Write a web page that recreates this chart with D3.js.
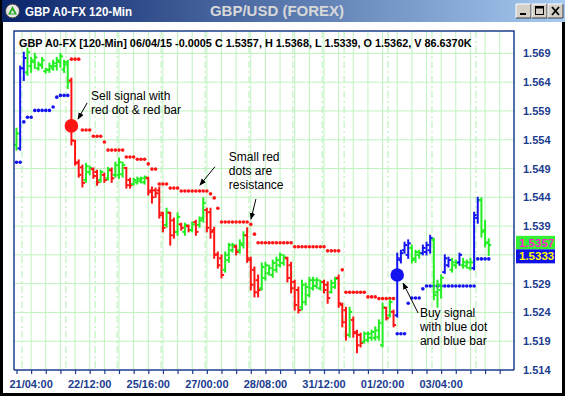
<!DOCTYPE html>
<html><head><meta charset="utf-8">
<script src="https://cdn.jsdelivr.net/npm/d3@7"></script>
<style>html,body{margin:0;padding:0;background:#000;overflow:hidden}svg{display:block}</style>
</head><body>
<svg id="c" width="565" height="396"></svg>
<script>
// ---------------- DATA ----------------
const barOpen = [
1.5531,1.5525,1.5664,1.5657,1.5668,1.5675,1.5664,1.5669,1.5659,1.5661,
1.5664,1.5668,1.5675,1.5662,1.5671,1.5643,1.5538,1.5501,1.5492,1.5470,
1.5484,1.5489,1.5484,1.5470,1.5479,1.5473,1.5487,1.5479,1.5479,1.5480,
1.5491,1.5470,1.5463,1.5466,1.5468,1.5466,1.5473,1.5452,1.5452,1.5452,
1.5413,1.5392,1.5413,1.5400,1.5380,1.5393,1.5380,1.5390,1.5383,1.5397,
1.5392,1.5404,1.5418,1.5414,1.5383,1.5341,1.5334,1.5314,1.5331,1.5348,
1.5354,1.5348,1.5357,1.5374,1.5331,1.5314,1.5296,1.5282,1.5300,1.5308,
1.5305,1.5314,1.5322,1.5326,1.5334,1.5322,1.5293,1.5279,1.5249,1.5258,
1.5270,1.5282,1.5286,1.5282,1.5293,1.5288,1.5275,1.5284,1.5300,1.5253,
1.5244,1.5201,1.5227,1.5206,1.5201,1.5189,1.5192,1.5196,1.5196,1.5197,
1.5183,1.5248,1.5235,1.5241,1.5235,1.5331,1.5348,1.5340,1.5352,1.5334,
1.5340,1.5343,1.5345,1.5348,1.5366,1.5275,1.5279,1.5310,1.5322,1.5314,
1.5322,1.5327,1.5322,1.5321,1.5317,1.5317,1.5404,1.5435,1.5383,1.5362];
const barHigh = [
1.5560,1.5668,1.5692,1.5699,1.5683,1.5690,1.5675,1.5683,1.5664,1.5673,
1.5678,1.5683,1.5690,1.5678,1.5678,1.5647,1.5539,1.5505,1.5496,1.5499,
1.5494,1.5491,1.5487,1.5487,1.5482,1.5492,1.5491,1.5501,1.5508,1.5501,
1.5492,1.5473,1.5473,1.5475,1.5475,1.5477,1.5475,1.5458,1.5456,1.5458,
1.5414,1.5421,1.5414,1.5404,1.5413,1.5395,1.5395,1.5392,1.5397,1.5400,
1.5406,1.5439,1.5421,1.5421,1.5388,1.5345,1.5340,1.5345,1.5360,1.5360,
1.5357,1.5366,1.5380,1.5387,1.5336,1.5319,1.5305,1.5326,1.5327,1.5322,
1.5331,1.5336,1.5343,1.5340,1.5336,1.5327,1.5296,1.5284,1.5296,1.5291,
1.5301,1.5301,1.5300,1.5296,1.5296,1.5293,1.5296,1.5301,1.5305,1.5256,
1.5249,1.5249,1.5232,1.5209,1.5204,1.5206,1.5206,1.5209,1.5215,1.5227,
1.5256,1.5249,1.5262,1.5244,1.5343,1.5348,1.5362,1.5366,1.5357,1.5348,
1.5348,1.5357,1.5362,1.5374,1.5369,1.5296,1.5305,1.5340,1.5336,1.5334,
1.5331,1.5343,1.5334,1.5331,1.5334,1.5414,1.5440,1.5439,1.5400,1.5368];
const barLow = [
1.5522,1.5522,1.5643,1.5652,1.5657,1.5664,1.5661,1.5664,1.5656,1.5657,
1.5661,1.5661,1.5666,1.5657,1.5629,1.5531,1.5496,1.5475,1.5458,1.5466,
1.5479,1.5473,1.5461,1.5466,1.5466,1.5470,1.5466,1.5475,1.5473,1.5475,
1.5456,1.5456,1.5461,1.5463,1.5465,1.5463,1.5444,1.5430,1.5440,1.5404,
1.5380,1.5388,1.5357,1.5369,1.5374,1.5383,1.5374,1.5380,1.5380,1.5374,
1.5388,1.5397,1.5380,1.5369,1.5334,1.5317,1.5300,1.5310,1.5327,1.5345,
1.5340,1.5343,1.5352,1.5327,1.5279,1.5267,1.5267,1.5279,1.5296,1.5305,
1.5301,1.5310,1.5319,1.5322,1.5293,1.5274,1.5244,1.5239,1.5244,1.5253,
1.5267,1.5279,1.5282,1.5279,1.5274,1.5256,1.5274,1.5282,1.5249,1.5215,
1.5192,1.5197,1.5197,1.5170,1.5180,1.5187,1.5189,1.5192,1.5192,1.5192,
1.5180,1.5227,1.5232,1.5215,1.5232,1.5326,1.5343,1.5334,1.5326,1.5327,
1.5334,1.5340,1.5340,1.5343,1.5262,1.5249,1.5265,1.5308,1.5319,1.5310,
1.5317,1.5322,1.5317,1.5317,1.5314,1.5314,1.5395,1.5371,1.5354,1.5339];
const barClose = [
1.5551,1.5664,1.5682,1.5692,1.5678,1.5683,1.5671,1.5678,1.5662,1.5668,
1.5673,1.5678,1.5685,1.5675,1.5640,1.5539,1.5499,1.5479,1.5465,1.5494,
1.5491,1.5477,1.5466,1.5484,1.5470,1.5489,1.5473,1.5496,1.5501,1.5496,
1.5461,1.5461,1.5470,1.5472,1.5473,1.5475,1.5449,1.5440,1.5447,1.5409,
1.5387,1.5414,1.5374,1.5380,1.5406,1.5387,1.5392,1.5383,1.5393,1.5380,
1.5400,1.5430,1.5387,1.5380,1.5340,1.5322,1.5305,1.5340,1.5357,1.5357,
1.5345,1.5360,1.5374,1.5334,1.5288,1.5275,1.5279,1.5319,1.5322,1.5317,
1.5326,1.5331,1.5340,1.5336,1.5300,1.5282,1.5253,1.5244,1.5288,1.5284,
1.5296,1.5296,1.5296,1.5293,1.5279,1.5265,1.5291,1.5298,1.5256,1.5223,
1.5201,1.5241,1.5204,1.5183,1.5187,1.5203,1.5203,1.5206,1.5209,1.5222,
1.5249,1.5230,1.5258,1.5218,1.5334,1.5343,1.5357,1.5360,1.5331,1.5345,
1.5343,1.5352,1.5357,1.5369,1.5270,1.5288,1.5300,1.5334,1.5331,1.5327,
1.5326,1.5340,1.5327,1.5327,1.5327,1.5409,1.5435,1.5380,1.5360,1.5357];
// bar colour class per bar: G = green, R = red, B = blue
const barColorCodes = (
"GBBGGGGGGG"+"GGGGGRRRRG"+"GRRGRGRGGG"+"RRGGGGRRRR"+"RGRRGRGRGR"+
"GGRRRRRGGG"+"RGGRRRRGGG"+"GGGGRRRRGG"+"GGGGRRGGRR"+"RGRRRGGGGG"+
"GRGRBBBBGG"+"GBBBGGGBBG"+"GBGGGBBGGG").split("");
// trailing stop dots (blue = support, red = resistance)
const stopValue = [
1.5501,1.5501,1.5571,1.5579,1.5579,1.5591,1.5591,1.5591,1.5591,1.5591,
1.5597,1.5614,1.5617,1.5617,1.5617,1.5680,1.5680,1.5680,1.5557,1.5557,
1.5557,1.5546,1.5546,1.5546,1.5536,1.5522,1.5522,1.5522,1.5522,1.5522,
1.5510,1.5510,1.5510,1.5506,1.5506,1.5506,1.5498,1.5489,1.5489,1.5463,
1.5463,1.5463,1.5456,1.5456,1.5456,1.5451,1.5451,1.5451,1.5451,1.5451,
1.5451,1.5451,1.5451,1.5446,1.5439,1.5421,1.5397,1.5397,1.5397,1.5397,
1.5397,1.5397,1.5397,1.5397,1.5393,1.5376,1.5361,1.5361,1.5361,1.5361,
1.5361,1.5361,1.5361,1.5361,1.5361,1.5361,1.5354,1.5354,1.5354,1.5354,
1.5354,1.5354,1.5354,1.5354,1.5354,1.5347,1.5347,1.5347,1.5347,1.5314,
1.5275,1.5275,1.5275,1.5275,1.5275,1.5275,1.5267,1.5267,1.5267,1.5264,
1.5264,1.5264,1.5264,1.5264,1.5203,1.5203,1.5203,1.5256,1.5265,1.5265,
1.5265,1.5281,1.5286,1.5286,1.5286,1.5286,1.5286,1.5286,1.5286,1.5286,
1.5286,1.5286,1.5286,1.5286,1.5286,1.5286,1.5333,1.5333,1.5333,1.5333];
const trendFlips = [{bar:0, side:"B"}, {bar:15, side:"R"}, {bar:104, side:"B"}];
const signals = [{bar:15, price:1.5564, side:"R"}, {bar:104, price:1.5305, side:"B"}];
const priceTicks = [1.514,1.519,1.524,1.529,1.534,1.539,1.544,1.549,1.554,1.559,1.564,1.569];
const timeLabels = [[4,"21/04:00"],[20,"22/12:00"],[36,"25/16:00"],[52,"27/00:00"],
                    [68,"28/08:00"],[84,"31/12:00"],[100,"01/20:00"],[116,"03/04:00"]];
const dayBreaks = [1.5,13.5,21.5,27.5,39.5,51.5,63.5,75.5,83.5,89.5,101.5,113.5,125.5];
const lastTags = [{v:1.5357, kind:"close"}, {v:1.5333, kind:"stop"}];
const volumeText = "86.6370K";
const annotations = [
  {lines:["Sell signal with","red dot & red bar"], bar:20.35, price:1.5609,
   arrows:[[19.3,1.5604,16.8,1.5576]]},
  {lines:["Small red","dots are","resistance"], bar:58.0, price:1.5503,
   arrows:[[54.2,1.5493,50.1,1.5461],[65.4,1.5437,64.05,1.5402]]},
  {lines:["Buy signal","with blue dot","and blue bar"], bar:110.2, price:1.5232,
   arrows:[[109.7,1.5239,105.6,1.5291]]}
];

// ---------------- LAYOUT ----------------
const W = 565, H = 396;
const plot = {l:14, r:514, t:31, b:370};
const FONT = "'Liberation Sans', Arial, sans-serif";
const colorMap = {G:"#22ee22", R:"#ff1414", B:"#1414f0"};
const axisBlue = "#1b3c8e";
const gridCol = "#bff3bf";

const x = d3.scaleLinear().domain([-0.68, 135.9]).range([plot.l, plot.r]);
const y = d3.scaleLinear().domain([1.514, 1.57289]).range([plot.b, plot.t]);

const svg = d3.select("#c");
const defs = svg.append("defs");
const grad = defs.append("linearGradient").attr("id","tg").attr("x1","0").attr("x2","1").attr("y1","0").attr("y2","0");
grad.append("stop").attr("offset","0%").attr("stop-color","#0a246a");
grad.append("stop").attr("offset","100%").attr("stop-color","#a6caf0");
defs.append("marker").attr("id","ah").attr("viewBox","0 0 10 10").attr("refX",9).attr("refY",5)
  .attr("markerWidth",7).attr("markerHeight",7).attr("markerUnits","userSpaceOnUse").attr("orient","auto")
  .append("path").attr("d","M0,1 L10,5 L0,9 z").attr("fill","#000");

// window frame
svg.append("rect").attr("width",W).attr("height",H).attr("fill","#000");
svg.append("rect").attr("x",2).attr("y",0).attr("width",W-2).attr("height",22).attr("fill","url(#tg)");
svg.append("rect").attr("x",3).attr("y",22).attr("width",W-6).attr("height",H-25).attr("fill","#fff");

// title icon
svg.append("circle").attr("cx",12.5).attr("cy",11).attr("r",7).attr("fill","#e8e8e8").attr("stroke","#404040").attr("stroke-width",1);
svg.append("path").attr("d","M12.5,6 L17,14.5 L8,14.5 Z").attr("fill","#22aa22");
svg.append("path").attr("d","M12.5,10 L14.5,13.5 L10.5,13.5 Z").attr("fill","#e8e8e8");
svg.append("text").attr("x",25).attr("y",16).attr("fill","#fff").attr("font-family",FONT)
  .attr("font-weight","bold").attr("font-size",12.5).attr("textLength",107).attr("lengthAdjust","spacingAndGlyphs")
  .text("GBP A0-FX 120-Min");
svg.append("text").attr("x",277).attr("y",16).attr("text-anchor","middle").attr("fill","#d8d8d8")
  .attr("font-family",FONT).attr("font-weight","bold").attr("font-size",15).text("GBP/USD (FOREX)");
// window buttons
const btns = [{x:516,g:"min"},{x:532,g:"max"},{x:548,g:"close"}];
btns.forEach(b=>{
  const bg = svg.append("g");
  bg.append("rect").attr("x",b.x).attr("y",4).attr("width",15).attr("height",14).attr("fill","#d4d0c8");
  bg.append("path").attr("d",`M${b.x},${18} V4 H${b.x+15}`).attr("fill","none").attr("stroke","#fff").attr("stroke-width",1);
  bg.append("path").attr("d",`M${b.x},${18} H${b.x+15} V4`).attr("fill","none").attr("stroke","#404040").attr("stroke-width",1);
  if(b.g==="min") bg.append("rect").attr("x",b.x+4).attr("y",13).attr("width",6).attr("height",2).attr("fill","#000");
  if(b.g==="max") bg.append("rect").attr("x",b.x+3.5).attr("y",6.5).attr("width",8).attr("height",8).attr("fill","none").attr("stroke","#000").attr("stroke-width",1);
  if(b.g==="max") bg.append("line").attr("x1",b.x+3.5).attr("x2",b.x+11.5).attr("y1",7.5).attr("y2",7.5).attr("stroke","#000").attr("stroke-width",2);
  if(b.g==="close") bg.append("path").attr("d",`M${b.x+4},7 L${b.x+11},15 M${b.x+11},7 L${b.x+4},15`).attr("stroke","#000").attr("stroke-width",1.8);
});

// grid
const grid = svg.append("g");
grid.selectAll("line.h").data(priceTicks.slice(1)).join("line")
  .attr("x1",plot.l).attr("x2",plot.r).attr("y1",d=>y(d)).attr("y2",d=>y(d))
  .attr("stroke",gridCol).attr("stroke-width",1);
const tickBars = d3.range(0, 136, 4);
grid.selectAll("line.v").data(tickBars.slice(1)).join("line")
  .attr("x1",d=>x(d)).attr("x2",d=>x(d)).attr("y1",plot.t).attr("y2",plot.b)
  .attr("stroke",gridCol).attr("stroke-width",1);
grid.selectAll("line.d").data(dayBreaks).join("line")
  .attr("x1",d=>x(d)).attr("x2",d=>x(d)).attr("y1",plot.t).attr("y2",plot.b)
  .attr("stroke",gridCol).attr("stroke-width",1.2).attr("stroke-dasharray","7,3,2,3");

// header text
const n = barClose.length - 1;
const hdr = svg.append("text").attr("x",19).attr("y",47).attr("font-family",FONT).attr("font-weight","bold")
  .attr("font-size",11).attr("fill","#000")
  .text(`GBP A0-FX [120-Min] 06/04/15 ${(barClose[n]-barOpen[n]).toFixed(4)} C ${barClose[n].toFixed(4)}, H ${barHigh[n].toFixed(4)}, L ${barLow[n].toFixed(4)}, O ${barOpen[n].toFixed(4)}, V ${volumeText}`);
const hl = hdr.node().getComputedTextLength();
hdr.attr("font-size", 11*453/hl);

// stop dots
function sideAt(i){ let s="B"; trendFlips.forEach(f=>{ if(i>=f.bar) s=f.side; }); return s; }
const stops = stopValue.map((v,i)=>({i, v, side:sideAt(i)}));
svg.append("g").selectAll("circle").data(stops).join("circle")
  .attr("cx",d=>x(d.i)).attr("cy",d=>y(d.v)).attr("r",1.8)
  .attr("fill",d=>colorMap[d.side]);

// OHLC bars
const bars = barOpen.map((o,i)=>({i,o,h:barHigh[i],l:barLow[i],c:barClose[i],col:colorMap[barColorCodes[i]]}));
const bg = svg.append("g").attr("stroke-linecap","butt");
const bsel = bg.selectAll("g").data(bars).join("g");
bsel.append("line").attr("x1",d=>x(d.i)).attr("x2",d=>x(d.i)).attr("y1",d=>y(d.h)-0.5).attr("y2",d=>y(d.l)+0.5)
  .attr("stroke",d=>d.col).attr("stroke-width",2);
bsel.append("line").attr("x1",d=>x(d.i)-2.6).attr("x2",d=>x(d.i)).attr("y1",d=>y(d.o)).attr("y2",d=>y(d.o))
  .attr("stroke",d=>d.col).attr("stroke-width",2);
bsel.append("line").attr("x1",d=>x(d.i)).attr("x2",d=>x(d.i)+2.6).attr("y1",d=>y(d.c)).attr("y2",d=>y(d.c))
  .attr("stroke",d=>d.col).attr("stroke-width",2);

// signal dots
svg.append("g").selectAll("circle").data(signals).join("circle")
  .attr("cx",d=>x(d.bar)).attr("cy",d=>y(d.price)).attr("r",6.8).attr("fill",d=>colorMap[d.side]);

// plot frame
svg.append("path").attr("d",`M${plot.l},${plot.b} V${plot.t} H${plot.r} V${plot.b}`)
  .attr("fill","none").attr("stroke",axisBlue).attr("stroke-width",1.5);
// x axis
const xAxis = d3.axisBottom(x).tickValues(tickBars).tickSize(4).tickFormat("");
const xg = svg.append("g").attr("transform",`translate(0,${plot.b})`).call(xAxis);
xg.select(".domain").attr("stroke",axisBlue).attr("stroke-width",1.5).attr("d",`M${plot.l},0H${plot.r}`);
xg.selectAll(".tick line").attr("stroke",axisBlue).attr("stroke-width",1.2);
svg.append("g").selectAll("text").data(timeLabels).join("text")
  .attr("x",d=>x(d[0])).attr("y",388).attr("text-anchor","middle")
  .attr("font-family",FONT).attr("font-weight","bold").attr("font-size",11).attr("fill",axisBlue)
  .text(d=>d[1]);

// last value tags (positions)
const closeY = y(lastTags[0].v) - 2;
const tagH = 13.5;
const tagTops = [closeY - tagH/2 - 0.5, closeY + tagH/2 - 0.5];
const tagSpan = [tagTops[0], tagTops[1] + tagH];

// y labels (a label covered by the last-value tags is not shown, as in the reference)
const shownLabels = priceTicks.filter(v => y(v) + 5 < tagSpan[0] || y(v) - 5 > tagSpan[1]);
svg.append("g").selectAll("text").data(shownLabels).join("text")
  .attr("x",523).attr("y",d=>y(d)+4).attr("font-family",FONT).attr("font-weight","bold")
  .attr("font-size",11).attr("fill",axisBlue).text(d=>d.toFixed(3));

const tagG = svg.append("g");
lastTags.forEach((t,k)=>{
  tagG.append("rect").attr("x",516).attr("y",tagTops[k]).attr("width",39).attr("height",tagH + (k?0.5:0))
    .attr("fill", t.kind==="close" ? "#33f033" : "#1010e8");
  tagG.append("text").attr("x",519).attr("y",tagTops[k]+11).attr("font-family",FONT).attr("font-weight","bold")
    .attr("font-size",11.5).attr("fill", t.kind==="close" ? "#ff22cc" : "#ffff00").text(t.v.toFixed(4));
});

// annotations
const ann = svg.append("g");
annotations.forEach(a=>{
  a.lines.forEach((ln,k)=>{
    ann.append("text").attr("x",x(a.bar)).attr("y",y(a.price)+k*14.2).attr("font-family",FONT)
      .attr("font-size",12).attr("fill","#000").text(ln);
  });
  a.arrows.forEach(ar=>{
    ann.append("line").attr("x1",x(ar[0])).attr("y1",y(ar[1])).attr("x2",x(ar[2])).attr("y2",y(ar[3]))
      .attr("stroke","#000").attr("stroke-width",1).attr("marker-end","url(#ah)");
  });
});
</script>
</body></html>
